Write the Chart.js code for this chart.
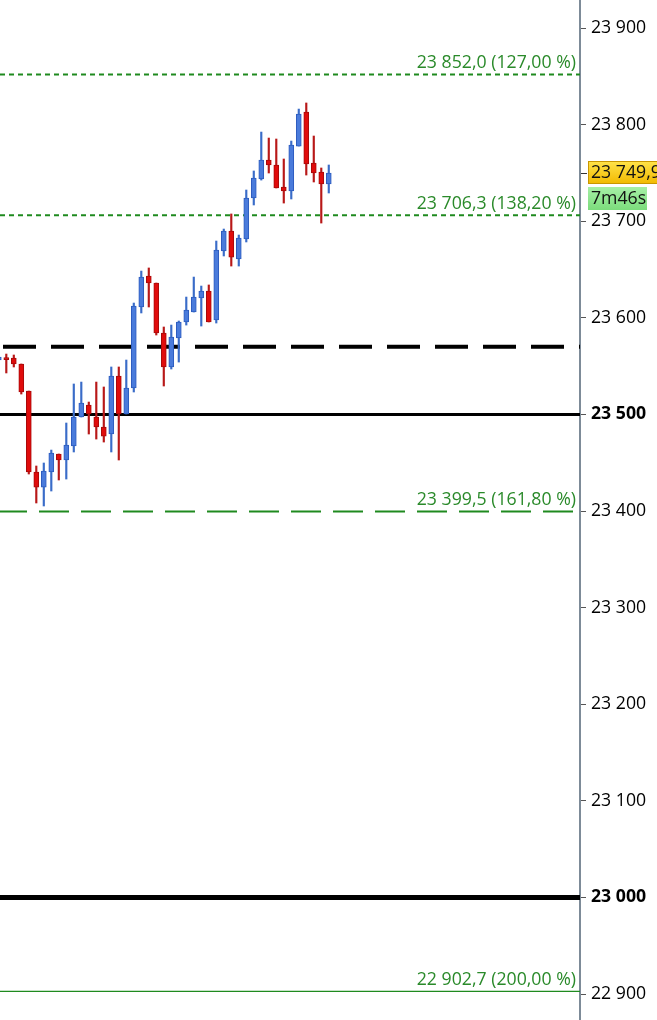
<!DOCTYPE html>
<html>
<head>
<meta charset="utf-8">
<title>Candles</title>
<script src="https://cdn.jsdelivr.net/npm/chart.js@4.4.1/dist/chart.umd.min.js"></script>
<style>
  html, body { margin: 0; padding: 0; background: #fff; }
  #wrap { width: 657px; height: 1020px; position: relative; }
</style>
</head>
<body>
<div id="wrap"><canvas id="chart"></canvas></div>
<script>
// ==========================================
// DATA
// ==========================================

// Candle values, one entry per bar (oldest first)
const opens = [
  23556.3, 23558.4, 23558.4, 23552.2, 23524.2, 23440.4, 23424.8, 23440.4, 23459.0, 23452.8,
  23467.3, 23497.3, 23509.7, 23497.3, 23487.0, 23479.7, 23539.8, 23500.4, 23527.3, 23611.2,
  23643.3, 23636.0, 23584.3, 23549.1, 23579.1, 23595.7, 23606.0, 23620.5, 23627.7, 23597.7,
  23669.2, 23689.9, 23660.9, 23681.6, 23724.0, 23743.7, 23763.4, 23758.2, 23735.4, 23731.3,
  23777.8, 23813.0, 23760.2, 23750.9, 23738.5
];
const highs = [
  23561.5, 23562.5, 23561.5, 23552.2, 23524.2, 23446.6, 23449.7, 23463.1, 23459.0, 23491.1,
  23531.5, 23533.5, 23512.8, 23533.5, 23528.4, 23549.1, 23549.1, 23556.3, 23615.3, 23648.4,
  23651.6, 23636.0, 23590.5, 23592.5, 23596.7, 23621.5, 23642.2, 23632.9, 23634.0, 23679.5,
  23691.9, 23707.5, 23685.7, 23732.3, 23752.0, 23792.3, 23786.1, 23785.1, 23764.4, 23783.0,
  23816.1, 23822.4, 23788.2, 23755.1, 23758.2
];
const lows = [
  23554.2, 23542.9, 23549.1, 23521.1, 23438.3, 23408.3, 23405.2, 23420.7, 23432.1, 23433.1,
  23461.1, 23497.3, 23479.7, 23474.5, 23471.4, 23461.1, 23452.8, 23500.4, 23523.2, 23605.0,
  23611.2, 23582.2, 23529.4, 23547.0, 23554.2, 23592.5, 23606.0, 23591.5, 23595.7, 23594.6,
  23664.0, 23653.6, 23653.6, 23678.5, 23716.8, 23742.6, 23749.9, 23734.4, 23718.8, 23723.0,
  23777.8, 23747.8, 23740.6, 23698.1, 23729.2
];
const closes = [
  23559.4, 23556.8, 23552.2, 23523.2, 23440.4, 23424.8, 23441.4, 23460.0, 23452.8, 23468.3,
  23497.3, 23511.8, 23500.4, 23487.0, 23477.6, 23539.8, 23500.4, 23527.3, 23612.2, 23642.2,
  23636.0, 23584.3, 23549.1, 23580.1, 23595.7, 23608.1, 23621.5, 23627.7, 23595.7, 23670.2,
  23689.9, 23662.9, 23682.6, 23724.0, 23744.7, 23763.4, 23758.2, 23734.4, 23731.3, 23778.9,
  23811.0, 23759.2, 23749.9, 23738.5, 23749.9
];

// Fibonacci levels with their percentage tags
const fiboValues = [23852.0, 23706.3, 23399.5, 22902.7];
const fiboPercents = ["127,00", "138,20", "161,80", "200,00"];

// Plain support / resistance levels
const blackDashedLevel = 23570;
const roundLevels = [23500, 23000];

// Axis range and timer text
const yMin = 22873.1;
const yMax = 23929.0;
const yStep = 100;
const xMin = 0.16;
const xMax = 77.5;
const timerText = "7m46s";

// ==========================================
// HELPERS
// ==========================================

const FONT = "'Open Sans', 'DejaVu Sans', sans-serif";
const FONT_SIZE = 17.7;

/** Format a number like 23 852,0 (space thousands, comma decimals). */
function fmt(v, decimals) {
  const parts = v.toFixed(decimals).split(".");
  const intPart = parts[0].replace(/\B(?=(\d{3})+(?!\d))/g, " ");
  return parts.length > 1 ? intPart + "," + parts[1] : intPart;
}

const UP_FILL = "#4a7bdb";
const UP_EDGE = "#2d5cbf";
const DOWN_FILL = "#e00c0c";
const DOWN_EDGE = "#a80a0a";

const isUp = opens.map((o, i) => closes[i] >= o);

// Build the bar data from the arrays
const wickData = highs.map((h, i) => ({ x: i, y: [lows[i], h] }));
const bodyData = opens.map((o, i) => ({
  x: i,
  y: [Math.min(o, closes[i]), Math.max(o, closes[i])],
}));

/** Horizontal level as a two point line spanning the x scale. */
function levelLine(value, color, width, dash, dashOffset) {
  return {
    type: "line",
    data: [{ x: xMin, y: value }, { x: xMax, y: value }],
    borderColor: color,
    borderWidth: width,
    borderDash: dash || [],
    borderDashOffset: dashOffset || 0,
    pointRadius: 0,
    fill: false,
    order: 5,
  };
}

// ==========================================
// PLUGINS
// ==========================================

// Text tags drawn above the fibonacci levels
const fiboLabels = {
  id: "fiboLabels",
  afterDatasetsDraw(chart) {
    const { ctx, chartArea, scales } = chart;
    ctx.save();
    ctx.font = FONT_SIZE + "px " + FONT;
    ctx.fillStyle = "#2a8a2a";
    ctx.textAlign = "right";
    ctx.textBaseline = "alphabetic";
    fiboValues.forEach((v, i) => {
      const y = scales.y.getPixelForValue(v);
      ctx.fillText(fmt(v, 1) + " (" + fiboPercents[i] + " %)", chartArea.right - 4, y - 6);
    });
    ctx.restore();
  },
};

// Current price box and countdown on the axis
const priceTag = {
  id: "priceTag",
  afterDraw(chart) {
    const { ctx, chartArea, scales } = chart;
    const last = closes[closes.length - 1];
    const y = Math.round(scales.y.getPixelForValue(last));
    const x0 = chartArea.right + 8;
    const w = chart.width - x0;

    ctx.save();
    // tick at the price
    ctx.strokeStyle = "#333";
    ctx.lineWidth = 1;
    ctx.beginPath();
    ctx.moveTo(chartArea.right + 1, y + 0.5);
    ctx.lineTo(chartArea.right + 7, y + 0.5);
    ctx.stroke();

    // yellow price box
    let g = ctx.createLinearGradient(0, y - 12, 0, y + 11);
    g.addColorStop(0, "#ffe34a");
    g.addColorStop(1, "#f2b900");
    ctx.fillStyle = g;
    ctx.fillRect(x0, y - 12, w + 2, 23);
    ctx.strokeStyle = "#c99700";
    ctx.strokeRect(x0 + 0.5, y - 11.5, w + 2, 22);
    ctx.fillStyle = "#111";
    ctx.font = FONT_SIZE + "px " + FONT;
    ctx.textBaseline = "middle";
    ctx.textAlign = "left";
    ctx.fillText(fmt(last, 1), x0 + 3, y);

    // green timer box
    g = ctx.createLinearGradient(0, y + 14, 0, y + 37);
    g.addColorStop(0, "#a6f0a6");
    g.addColorStop(1, "#7cdc7c");
    ctx.fillStyle = g;
    ctx.fillRect(x0, y + 14, 59, 23);
    ctx.fillStyle = "#111";
    ctx.fillText(timerText, x0 + 3, y + 26);
    ctx.restore();
  },
};

// ==========================================
// CHART
// ==========================================

const chart = new Chart(document.getElementById("chart"), {
  type: "bar",
  data: {
    datasets: [
      levelLine(fiboValues[0], "#1f8a1f", 2, [5, 4]),
      levelLine(fiboValues[1], "#1f8a1f", 2, [5, 4]),
      levelLine(fiboValues[2], "#1f8a1f", 2, [30, 12], 3),
      levelLine(fiboValues[3], "#1f8a1f", 1.2),
      levelLine(blackDashedLevel, "#000", 4, [33, 15], -3),
      levelLine(roundLevels[0], "#000", 3),
      levelLine(roundLevels[1], "#000", 5),
      {
        type: "bar",
        data: wickData,
        backgroundColor: isUp.map((u) => (u ? "#3a6cc8" : "#b81818")),
        barThickness: 1.5,
        grouped: false,
        order: 2,
      },
      {
        type: "bar",
        data: bodyData,
        backgroundColor: isUp.map((u) => (u ? UP_FILL : DOWN_FILL)),
        borderColor: isUp.map((u) => (u ? UP_EDGE : DOWN_EDGE)),
        borderWidth: 1,
        borderSkipped: false,
        barThickness: 5,
        minBarLength: 2,
        grouped: false,
        order: 1,
      },
    ],
  },
  options: {
    responsive: true,
    maintainAspectRatio: false,
    animation: false,
    layout: { padding: 0 },
    plugins: {
      legend: { display: false },
      tooltip: { enabled: false },
    },
    scales: {
      x: {
        type: "linear",
        display: false,
        min: xMin,
        max: xMax,
        offset: false,
      },
      y: {
        position: "right",
        min: yMin,
        max: yMax,
        ticks: {
          stepSize: yStep,
          includeBounds: false,
          padding: 5,
          color: "#000",
          font: (ctx) => ({
            family: FONT,
            size: FONT_SIZE,
            weight: ctx.tick && ctx.tick.value % 500 === 0 ? "bold" : "normal",
          }),
          callback: (v) => fmt(v, 0),
        },
        grid: {
          drawOnChartArea: false,
          tickLength: 6,
          tickColor: "#555",
        },
        border: { color: "#7d8b98", width: 2 },
        afterFit: (s) => {
          s.width = 77;
          s.paddingTop = 0;
          s.paddingBottom = 0;
        },
      },
    },
  },
  plugins: [fiboLabels, priceTag],
});
</script>
</body>
</html>
